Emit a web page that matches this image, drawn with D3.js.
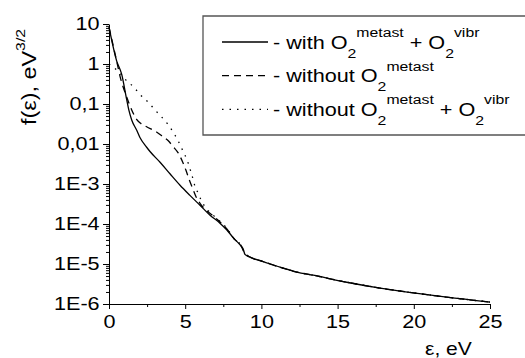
<!DOCTYPE html>
<html lang="en">
<head>
<meta charset="UTF-8">
<title>f(e) distribution</title>
<script src="https://d3js.org/d3.v7.min.js"></script>
<style>
  html, body { margin: 0; padding: 0; background: #fff; overflow: hidden; }
  #chart { display: block; }
  svg text { font-family: "Liberation Sans", Arial, sans-serif; fill: #000; }
</style>
</head>
<body>
<svg id="chart" width="525" height="358"></svg>
<script>
// values
const xWith = [0, 0.5, 0.83, 1.16, 1.3, 1.49, 1.82, 2.03, 2.47, 2.69, 3.35, 4.0, 4.66, 5.31, 5.97, 6.63, 7.28, 7.72, 8.16, 8.6, 8.81, 8.92, 9.25, 10.12, 11.22, 12.32, 13.4, 15.6, 17.78, 19.97, 22.16, 25];
const fWith = [8.3, 1.2, 0.56, 0.13, 0.071, 0.040, 0.022, 0.0145, 0.0083, 0.0065, 0.0035, 0.0018, 9.3e-4, 5.2e-4, 2.95e-4, 1.66e-4, 1.05e-4, 7.2e-5, 4.5e-5, 3.0e-5, 2.35e-5, 1.74e-5, 1.48e-5, 1.15e-5, 8.3e-6, 6.3e-6, 5.25e-6, 3.5e-6, 2.5e-6, 1.9e-6, 1.48e-6, 1.12e-6];

const xNoMetast = [0, 0.5, 0.72, 1.16, 1.49, 1.8, 2.03, 2.47, 3.12, 3.56, 3.89, 4.22, 4.55, 4.84, 5.05, 5.27, 5.53, 5.71, 5.97, 6.3, 6.84, 7.28, 7.72, 8.27, 8.6, 8.92, 9.25, 10.12, 11.22, 12.32, 13.4, 15.6, 17.78, 19.97, 22.16, 25];
const fNoMetast = [8.3, 1.2, 0.5, 0.15, 0.071, 0.042, 0.034, 0.027, 0.020, 0.015, 0.012, 0.0085, 0.0059, 0.0035, 0.0022, 0.00126, 7.1e-4, 4.8e-4, 3.3e-4, 2.35e-4, 1.58e-4, 1.12e-4, 7.6e-5, 4.0e-5, 3.15e-5, 1.82e-5, 1.5e-5, 1.15e-5, 8.3e-6, 6.3e-6, 5.25e-6, 3.5e-6, 2.5e-6, 1.9e-6, 1.48e-6, 1.12e-6];

const xNoBoth = [0, 0.13, 0.72, 1.1, 1.6, 2.08, 2.58, 3.02, 3.46, 3.89, 4.22, 4.51, 4.77, 4.99, 5.2, 5.36, 5.53, 5.64, 5.86, 6.04, 6.3, 6.84, 7.28, 7.72, 8.27, 8.6, 8.92, 9.25, 10.12, 11.22, 12.32, 13.4, 15.6, 17.78, 19.97, 22.16, 25];
const fNoBoth = [1.0, 0.93, 0.59, 0.40, 0.27, 0.166, 0.11, 0.071, 0.047, 0.030, 0.0195, 0.0126, 0.0078, 0.0052, 0.0033, 0.0021, 0.00126, 8.7e-4, 5.9e-4, 4.0e-4, 2.7e-4, 1.66e-4, 1.17e-4, 7.9e-5, 4.0e-5, 3.15e-5, 1.9e-5, 1.5e-5, 1.15e-5, 8.3e-6, 6.3e-6, 5.25e-6, 3.5e-6, 2.5e-6, 1.9e-6, 1.48e-6, 1.12e-6];

const xTicks = [0, 5, 10, 15, 20, 25];
const yTicks = [1e-6, 1e-5, 1e-4, 1e-3, 0.01, 0.1, 1, 10];
const yTickLabels = ["1E-6", "1E-5", "1E-4", "1E-3", "0,01", "0,1", "1", "10"];

const dashed = "7,5";
const dotted = "1.5,6";

const series = [
  { x: xWith, f: fWith, dash: null },
  { x: xNoMetast, f: fNoMetast, dash: dashed },
  { x: xNoBoth, f: fNoBoth, dash: dotted }
];

// the reference font is wider than Arial, so stretch text horizontally
const sx = 1.17;

const svg = d3.select("#chart");
const margin = { left: 109, right: 35, top: 24, bottom: 54 };
const W = 525, H = 358;

const x = d3.scaleLinear().domain([0, 25]).range([margin.left, W - margin.right]);
const y = d3.scaleLog().domain([1e-6, 10]).range([H - margin.bottom, margin.top]);

// minor ticks
const yMinor = y.ticks().filter(v => Math.abs(Math.log10(v) - Math.round(Math.log10(v))) > 1e-6);
const xMinor = d3.range(2.5, 25, 5);

svg.append("g")
    .attr("transform", `translate(${margin.left},0)`)
    .call(d3.axisLeft(y).tickValues(yMinor).tickSize(3).tickSizeOuter(0).tickFormat(""))
    .call(g => g.select(".domain").remove());

svg.append("g")
    .attr("transform", `translate(0,${H - margin.bottom})`)
    .call(d3.axisBottom(x).tickValues(xMinor).tickSize(3).tickSizeOuter(0).tickFormat(""))
    .call(g => g.select(".domain").remove());

const yAxis = svg.append("g")
    .attr("transform", `translate(${margin.left},0)`)
    .call(d3.axisLeft(y).tickValues(yTicks).tickSize(6).tickSizeOuter(0).tickPadding(2)
        .tickFormat((d, i) => yTickLabels[i]));

const xAxis = svg.append("g")
    .attr("transform", `translate(0,${H - margin.bottom})`)
    .call(d3.axisBottom(x).tickValues(xTicks).tickSize(5).tickSizeOuter(0).tickPadding(6));

svg.selectAll(".tick line, .domain").attr("stroke", "#000").attr("stroke-width", 1);
[yAxis, xAxis].forEach(a => a.selectAll("text")
    .attr("font-size", 18.5)
    .attr("font-family", "Liberation Sans, Arial, sans-serif")
    .attr("fill", "#000")
    .attr("transform", `scale(${sx},1)`));

// curves
const line = d3.line()
    .x(d => x(d[0]))
    .y(d => y(d[1]))
    .curve(d3.curveMonotoneX);

series.forEach(s => {
  svg.append("path")
      .datum(s.x.map((v, i) => [v, s.f[i]]))
      .attr("fill", "none")
      .attr("stroke", "#000")
      .attr("stroke-width", 1.3)
      .attr("stroke-dasharray", s.dash)
      .attr("d", line);
});

// axis titles
const yTitle = svg.append("text")
    .attr("transform", `translate(36,125) rotate(-90) scale(${sx},1)`)
    .attr("font-size", 20);
yTitle.append("tspan").text("f(ε), eV");
yTitle.append("tspan").attr("font-size", 13.5).attr("dy", -11).text("3/2");

svg.append("text")
    .attr("transform", `translate(425,355) scale(${sx},1)`)
    .attr("font-size", 18)
    .text("ε, eV");

// legend box runs off the right edge, so only three sides are drawn
const legend = svg.append("g");
legend.append("rect")
    .attr("x", 203).attr("y", 16)
    .attr("width", 340).attr("height", 119)
    .attr("fill", "#fff");
legend.append("path")
    .attr("d", "M545,16H203V135H545")
    .attr("fill", "none")
    .attr("stroke", "#555")
    .attr("stroke-width", 1.3);

const legendRows = [
  { dash: null, pre: "- with O", both: true },
  { dash: dashed, pre: "- without O", both: false },
  { dash: dotted, pre: "- without O", both: true }
];

legendRows.forEach((r, i) => {
  const ly = 42 + i * 33.7;
  legend.append("line")
      .attr("x1", 222).attr("x2", 268)
      .attr("y1", ly).attr("y2", ly)
      .attr("stroke", "#000")
      .attr("stroke-width", 1.3)
      .attr("stroke-dasharray", r.dash);
  const t = legend.append("text")
      .attr("transform", `translate(273,${ly + 6.5}) scale(${sx},1)`)
      .attr("font-size", 18.5);
  t.append("tspan").text(r.pre);
  t.append("tspan").attr("font-size", 13.5).attr("dy", 9).text("2");
  t.append("tspan").attr("font-size", 13.5).attr("dy", -20.5).text("metast");
  if (r.both) {
    t.append("tspan").attr("dy", 11.5).text(" + O");
    t.append("tspan").attr("font-size", 13.5).attr("dy", 9).text("2");
    t.append("tspan").attr("font-size", 13.5).attr("dy", -20.5).text("vibr");
  }
});
</script>
</body>
</html>
